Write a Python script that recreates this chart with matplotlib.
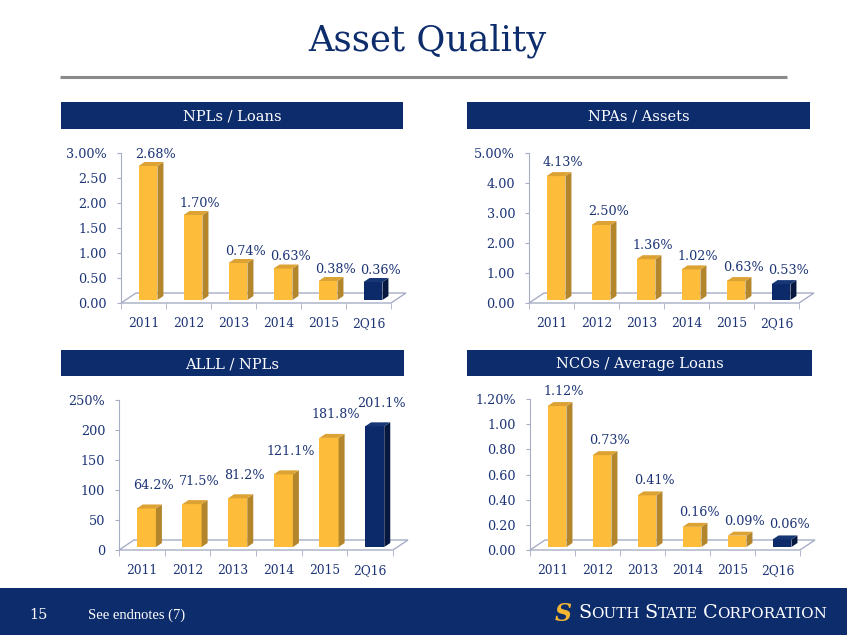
import numpy as np
import matplotlib.pyplot as plt
from matplotlib.patches import Polygon, Rectangle

plt.rcParams['font.family'] = ['DejaVu Serif']

years = ['2011', '2012', '2013', '2014', '2015', '2Q16']
npl_loans = [2.68, 1.70, 0.74, 0.63, 0.38, 0.36]
npa_assets = [4.13, 2.50, 1.36, 1.02, 0.63, 0.53]
alll_npls = [64.2, 71.5, 81.2, 121.1, 181.8, 201.1]
nco_loans = [1.12, 0.73, 0.41, 0.16, 0.09, 0.06]

W, H = 847, 635
NAVY = '#0D2C6C'
TXT = '#1C3476'
GRID = '#A7AEC6'
GOLD = ('#FDBD3A', '#B3862C', '#DCA233')   # front, side, top
BLUE = ('#0C2A6A', '#06183F', '#173674')

fig = plt.figure(figsize=(W / 100, H / 100), dpi=100)
bg = fig.add_axes([0, 0, 1, 1])
bg.set_xlim(0, W)
bg.set_ylim(H, 0)
bg.axis('off')

# title + rule
bg.text(427, 51, 'Asset Quality', ha='center', va='baseline', fontsize=25.5, color=NAVY)
bg.plot([60, 787], [77, 77], color='#8A8A8A', lw=2.2, solid_capstyle='butt')

# footer
bg.add_patch(Rectangle((0, 588), W, H - 588, color=NAVY, lw=0))
bg.text(29, 619, '15', color='white', fontsize=10.5, va='baseline')
bg.text(88, 619, 'See endnotes (7)', color='white', fontsize=10.5, va='baseline',
        family='Liberation Serif', stretch='condensed')
bg.text(563, 621, 'S', color='#F5B731', fontsize=17, fontweight='bold',
        ha='center', va='baseline', style='italic')


def small_caps(x, y, words, big, small):
    r = fig.canvas.get_renderer()
    for k, w in enumerate(words):
        t = bg.text(x, y, w[0], color='white', fontsize=big, va='baseline')
        x += t.get_window_extent(r).width
        t = bg.text(x, y, w[1:], color='white', fontsize=small, va='baseline')
        x += t.get_window_extent(r).width + 5


small_caps(578, 618, ['SOUTH', 'STATE', 'CORPORATION'], 13.8, 10.9)


def header(x0, x1, y0, y1, text):
    bg.add_patch(Rectangle((x0, y0), x1 - x0, y1 - y0, color=NAVY, lw=0))
    bg.text((x0 + x1) / 2, (y0 + y1) / 2 + 1, text, ha='center', va='center',
            color='white', fontsize=10.5)


header(61, 403, 102, 129, 'NPLs / Loans')
header(467, 810, 102, 129, 'NPAs / Assets')
header(61, 404, 350, 376, 'ALLL / NPLs')
header(467, 812, 350, 376, 'NCOs / Average Loans')


def panel(l, r, t, b, values, ymax, ystep, tick_fmt, lab_fmt, top_fmt, gap):
    ax = fig.add_axes([l / W, 1 - b / H, (r - l) / W, (b - t) / H])
    ax.set_xlim(-0.5, 5.5)
    ax.set_ylim(0, ymax)
    px_x = 6 / (r - l)
    px_y = ymax / (b - t)
    ddx, ddy = 15 * px_x, 10 * px_y
    f, bd, w = 0.3, 0.4, 0.42

    ax.add_patch(Polygon([(-0.5, 0), (5.5, 0), (5.5 + ddx, ddy), (-0.5 + ddx, ddy)],
                         closed=True, fc='white', ec=GRID, lw=1, clip_on=False, zorder=1))

    x = np.arange(len(values))
    cols = [GOLD] * (len(values) - 1) + [BLUE]
    ax.bar(x + f * ddx, values, width=w, bottom=f * ddy,
           color=[c[0] for c in cols], zorder=3, clip_on=False)
    for i, v in enumerate(values):
        x0 = i + f * ddx - w / 2
        x1 = x0 + w
        y0 = f * ddy
        y1 = y0 + v
        sx, sy = bd * ddx, bd * ddy
        ax.add_patch(Polygon([(x1, y0), (x1 + sx, y0 + sy), (x1 + sx, y1 + sy), (x1, y1)],
                             closed=True, fc=cols[i][1], lw=0, zorder=3, clip_on=False))
        ax.add_patch(Polygon([(x0, y1), (x1, y1), (x1 + sx, y1 + sy), (x0 + sx, y1 + sy)],
                             closed=True, fc=cols[i][2], lw=0, zorder=3, clip_on=False))
        ax.annotate(lab_fmt.format(v), (i + f * ddx + sx / 2, y1 + sy),
                    xytext=(3, gap), textcoords='offset points',
                    ha='center', va='bottom', color=TXT, fontsize=9.2)

    ticks = np.arange(0, ymax + ystep / 2, ystep)
    labels = [tick_fmt.format(v) for v in ticks]
    labels[-1] = top_fmt.format(ticks[-1])
    ax.set_yticks(ticks, labels)
    ax.set_xticks(x, years)
    ax.set_xticks(np.arange(-0.5, 6, 1), minor=True)
    ax.tick_params(axis='y', length=3, color=GRID, labelcolor=TXT, labelsize=9.2, pad=7)
    ax.tick_params(axis='x', which='major', length=0, labelcolor=TXT, labelsize=8.8, pad=10)
    ax.tick_params(axis='x', which='minor', length=4, color=GRID)
    for s in ['top', 'right', 'bottom']:
        ax.spines[s].set_visible(False)
    ax.spines['left'].set_color(GRID)
    ax.patch.set_alpha(0)
    return ax


panel(121, 391, 153, 303, npl_loans, 3.0, 0.5, '{:.2f}', '{:.2f}%', '{:.2f}%', 1)
panel(529, 799, 153, 303, npa_assets, 5.0, 1.0, '{:.2f}', '{:.2f}%', '{:.2f}%', 2)
panel(119, 393, 400, 550, alll_npls, 250, 50, '{:.0f}', '{:.1f}%', '{:.0f}%', 9)
panel(530, 800, 399, 550, nco_loans, 1.2, 0.2, '{:.2f}', '{:.2f}%', '{:.2f}%', 3)

fig.savefig('out.png', dpi=100)
